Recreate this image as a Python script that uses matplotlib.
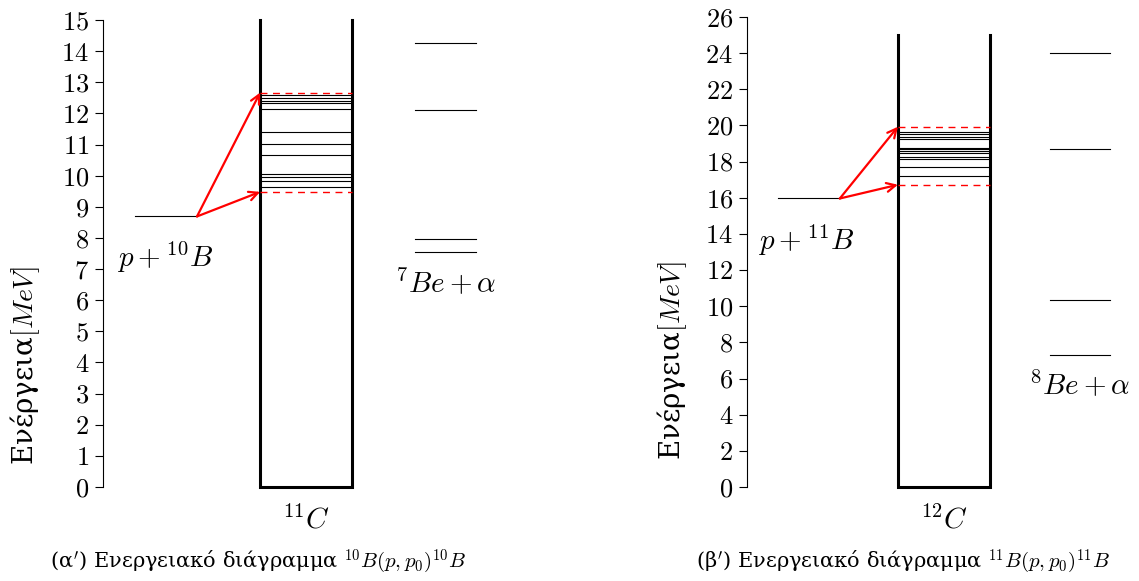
import matplotlib.pyplot as plt

plt.rcParams["font.family"] = ["cmr10", "DejaVu Serif"]
plt.rcParams["mathtext.fontset"] = "cm"
plt.rcParams["axes.unicode_minus"] = False
plt.rcParams["axes.formatter.use_mathtext"] = True

# (α) 10B(p,p0)10B
c11_levels = [9.65, 9.83, 9.95, 10.05, 10.66, 11.02, 11.41, 12.14, 12.33, 12.40, 12.49, 12.59]
c11_window = [9.48, 12.67]
p10b_energy = 8.69
be7_levels = [7.55, 7.97, 12.11, 14.26]
left_yticks = list(range(0, 16))

# (β) 11B(p,p0)11B
c12_levels = [17.20, 17.72, 18.14, 18.27, 18.46, 18.60, 18.69, 18.77, 19.23, 19.38, 19.52, 19.65]
c12_window = [16.72, 19.93]
p11b_energy = 15.96
be8_levels = [7.30, 10.34, 18.69, 23.99]
right_yticks = list(range(0, 27, 2))

W, H = 1139, 581


def draw_panel(ax, levels, window, entry, side_levels, box_top, ymax, yticks,
               lay, entry_label, side_label, nucleus_label):
    bx0, bx1 = lay["box"]
    # compound nucleus box
    ax.plot([bx0, bx0, bx1, bx1], [box_top, 0, 0, box_top], color="black", lw=2.2,
            solid_joinstyle="miter", clip_on=False)
    for e in levels:
        ax.plot([bx0, bx1], [e, e], color="black", lw=0.8)
    for e in window:
        ax.plot([bx0, bx1], [e, e], color="red", lw=1.0, ls=(0, (5, 4)))
    # entrance channel
    px0, px1 = lay["entry"]
    ax.plot([px0, px1], [entry, entry], color="black", lw=0.8)
    for e in window:
        ax.annotate("", xy=(bx0, e), xytext=(px1, entry),
                    arrowprops=dict(arrowstyle="->", color="red", lw=1.6,
                                    mutation_scale=16, shrinkA=0, shrinkB=0))
    # alpha channel levels
    sx0, sx1 = lay["side"]
    for e in side_levels:
        ax.plot([sx0, sx1], [e, e], color="black", lw=0.8)

    ax.text(*lay["entry_text"], entry_label, fontsize=21, ha="center", va="center")
    ax.text(*lay["side_text"], side_label, fontsize=21, ha="center", va="center")
    ax.text(*lay["nuc_text"], nucleus_label, fontsize=21, ha="center", va="center",
            clip_on=False)

    ax.set_xlim(0, 10)
    ax.set_ylim(0, ymax)
    ax.set_yticks(yticks)
    ax.tick_params(axis="y", direction="out", length=6, width=0.8, labelsize=19, pad=4)
    ax.set_xticks([])
    for s in ["top", "right", "bottom"]:
        ax.spines[s].set_visible(False)
    ax.spines["left"].set_linewidth(0.8)


fig = plt.figure(figsize=(W / 100, H / 100), dpi=100)

ax1 = fig.add_axes([103 / W, 1 - 487 / H, 390 / W, 467 / H])
ax2 = fig.add_axes([747 / W, 1 - 487 / H, 390 / W, 470 / H])

draw_panel(ax1, c11_levels, c11_window, p10b_energy, be7_levels, 15, 15, left_yticks,
           dict(box=(4.03, 6.38), entry=(0.82, 2.41), side=(8.0, 9.56),
                entry_text=(1.59, 7.36), side_text=(8.79, 6.55), nuc_text=(5.2, -1.06)),
           r"$p+{}^{10}B$", r"${}^{7}Be+\alpha$", r"${}^{11}C$")

draw_panel(ax2, c12_levels, c12_window, p11b_energy, be8_levels, 25, 26, right_yticks,
           dict(box=(3.87, 6.23), entry=(0.79, 2.38), side=(7.77, 9.31),
                entry_text=(1.51, 13.66), side_text=(8.54, 5.64), nuc_text=(5.05, -1.83)),
           r"$p+{}^{11}B$", r"${}^{8}Be+\alpha$", r"${}^{12}C$")

fig.text(25 / W, 1 - 365 / H, r"Ενέργεια$[MeV]$", rotation=90, fontsize=20,
         ha="center", va="center", family="DejaVu Serif")
fig.text(672 / W, 1 - 360 / H, r"Ενέργεια$[MeV]$", rotation=90, fontsize=20,
         ha="center", va="center", family="DejaVu Serif")

fig.text(258 / W, 1 - 562 / H, r"(α$'$) Ενεργειακό διάγραμμα ${}^{10}B(p,p_0)^{10}B$",
         fontsize=15, ha="center", va="center", family="DejaVu Serif")
fig.text(903 / W, 1 - 562 / H, r"(β$'$) Ενεργειακό διάγραμμα ${}^{11}B(p,p_0)^{11}B$",
         fontsize=15, ha="center", va="center", family="DejaVu Serif")

fig.savefig("out.png", dpi=100)
